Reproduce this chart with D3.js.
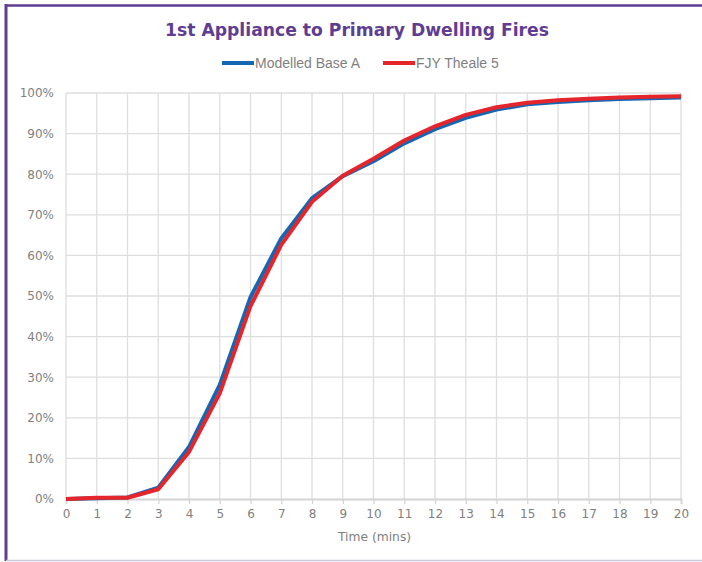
<!DOCTYPE html>
<html>
<head>
<meta charset="utf-8">
<script src="https://cdn.jsdelivr.net/npm/d3@7"></script>
<style>
  body { margin: 0; background: #fff; }
</style>
</head>
<body>
<div id="chart"></div>
<script>
// time in minutes
var minutes = [0, 1, 2, 3, 4, 5, 6, 7, 8, 9, 10, 11, 12, 13, 14, 15, 16, 17, 18, 19, 20];
// cumulative % of incidents reached
var modelledBaseA = [0, 0.2, 0.4, 2.8, 12.8, 28.1, 49.7, 64.2, 74.1, 79.5, 83.2, 87.6, 91.1, 93.9, 95.9, 97.2, 97.8, 98.2, 98.5, 98.7, 98.9];
var fjyTheale5 = [0, 0.3, 0.3, 2.4, 11.6, 26, 47.5, 62.6, 73.2, 79.6, 83.8, 88.3, 91.8, 94.6, 96.5, 97.6, 98.2, 98.6, 98.9, 99.1, 99.2];
var yTicks = [0, 10, 20, 30, 40, 50, 60, 70, 80, 90, 100];

var series = [
    { name: "Modelled Base A", values: modelledBaseA, color: "#1467b3" },
    { name: "FJY Theale 5", values: fjyTheale5, color: "#e4262c" }
];

var W = 702, H = 562;
var margin = { top: 93, right: 21, bottom: 63, left: 66 },
    width = W - margin.left - margin.right,
    height = H - margin.top - margin.bottom;

var svg = d3.select("#chart")
    .append("svg")
    .attr("width", W)
    .attr("height", H);

// frame
svg.append("line").attr("x1", 5).attr("x2", W).attr("y1", 5.5).attr("y2", 5.5)
    .attr("stroke", "#5e3d92").attr("stroke-width", 2.5);
svg.append("line").attr("x1", 6).attr("x2", 6).attr("y1", 4).attr("y2", 561)
    .attr("stroke", "#5e3d92").attr("stroke-width", 3);
svg.append("line").attr("x1", 6).attr("x2", W).attr("y1", 560.5).attr("y2", 560.5)
    .attr("stroke", "#cbc5dd").attr("stroke-width", 1.5);

// title
svg.append("text")
    .attr("x", 357).attr("y", 36)
    .attr("text-anchor", "middle")
    .style("font-family", "'DejaVu Sans', sans-serif")
    .style("font-weight", "bold")
    .style("font-size", "17.2px")
    .style("fill", "#5e3d92")
    .text("1st Appliance to Primary Dwelling Fires");

// legend
var legendX = [222, 383];
series.forEach(function (s, i) {
    var g = svg.append("g").attr("transform", "translate(" + legendX[i] + ",63)");
    g.append("line").attr("x1", 0).attr("x2", 32).attr("y1", 0).attr("y2", 0)
        .attr("stroke", s.color).attr("stroke-width", 4);
    g.append("text").attr("x", 33).attr("y", 5)
        .style("font-family", "'Liberation Sans Narrow', 'Liberation Sans', sans-serif")
        .style("font-size", "14px")
        .style("fill", "#7f7f7f")
        .text(s.name);
});

var plot = svg.append("g")
    .attr("transform", "translate(" + margin.left + "," + margin.top + ")");

var x = d3.scaleLinear().domain([0, 20]).range([0, width]);
var y = d3.scaleLinear().domain([0, 100]).range([height, 0]);

// gridlines
plot.append("g")
    .selectAll("line")
    .data(yTicks.filter(function (d) { return d > 0; }))
    .enter().append("line")
    .attr("x1", 0).attr("x2", width)
    .attr("y1", function (d) { return y(d); })
    .attr("y2", function (d) { return y(d); })
    .attr("stroke", "#dedede").attr("stroke-width", 1.3);
plot.append("g")
    .selectAll("line")
    .data(minutes)
    .enter().append("line")
    .attr("x1", function (d) { return x(d); })
    .attr("x2", function (d) { return x(d); })
    .attr("y1", 0).attr("y2", height)
    .attr("stroke", "#dedede").attr("stroke-width", 1.3);

// x axis
var xAxis = plot.append("g")
    .attr("transform", "translate(0," + height + ")")
    .call(d3.axisBottom(x).tickValues(minutes).tickSize(5).tickPadding(5).tickFormat(d3.format("d")));
xAxis.select(".domain").attr("stroke", "#d4d4d4").attr("stroke-width", 1.8);
xAxis.selectAll(".tick line").attr("stroke", "#d4d4d4").attr("stroke-width", 1.3);
xAxis.selectAll("text")
    .style("font-family", "'DejaVu Sans', sans-serif")
    .style("font-size", "12px")
    .style("fill", "#7f7f7f");

// y axis
var yAxis = plot.append("g")
    .call(d3.axisLeft(y).tickValues(yTicks).tickSize(0).tickPadding(12)
        .tickFormat(function (d) { return d + "%"; }));
yAxis.select(".domain").remove();
yAxis.selectAll("text")
    .style("font-family", "'DejaVu Sans', sans-serif")
    .style("font-size", "12px")
    .style("fill", "#7f7f7f");

// axis title
svg.append("text")
    .attr("x", margin.left + width / 2 + 1).attr("y", 541)
    .attr("text-anchor", "middle")
    .style("font-family", "'DejaVu Sans', sans-serif")
    .style("font-size", "12.3px")
    .style("fill", "#7f7f7f")
    .text("Time (mins)");

// lines
var line = d3.line()
    .x(function (d, i) { return x(minutes[i]); })
    .y(function (d) { return y(d); });

series.forEach(function (s) {
    plot.append("path")
        .datum(s.values)
        .attr("fill", "none")
        .attr("stroke", s.color)
        .attr("stroke-width", 4)
        .attr("stroke-linejoin", "round")
        .attr("d", line);
});
</script>
</body>
</html>
